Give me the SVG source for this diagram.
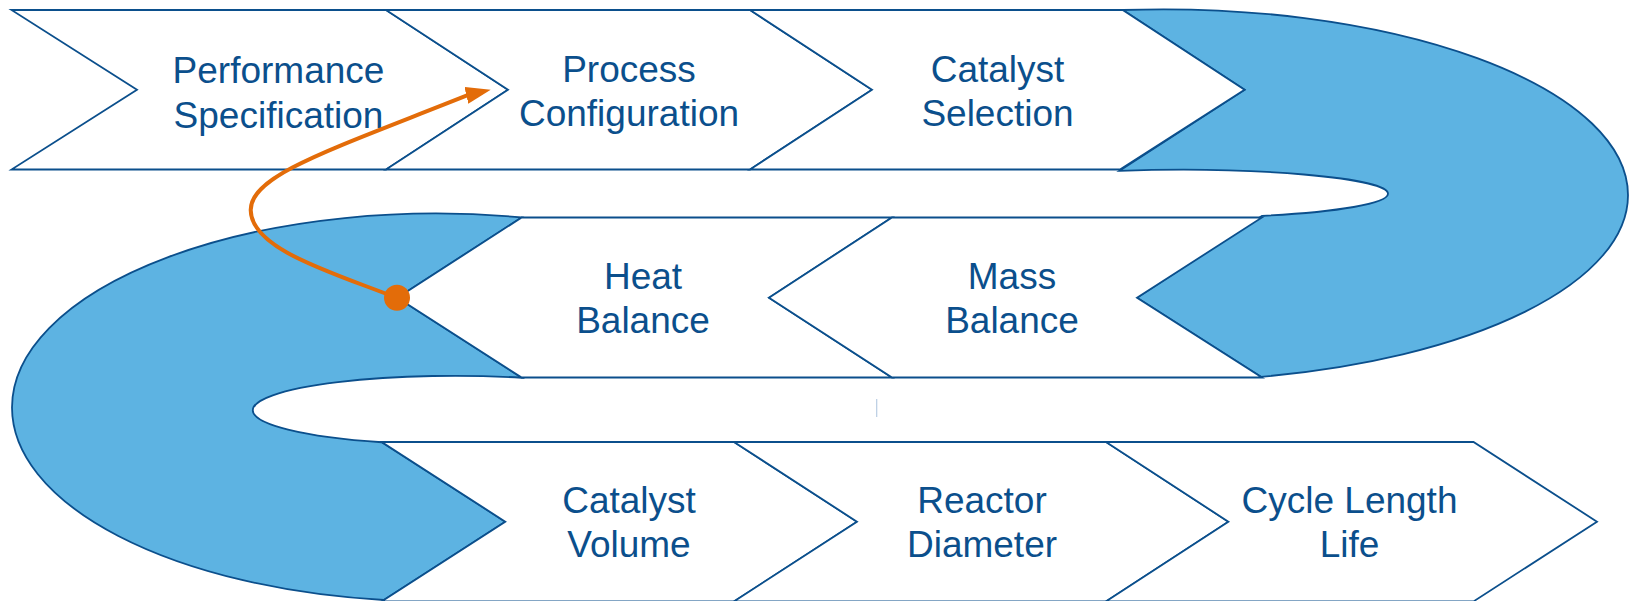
<svg xmlns="http://www.w3.org/2000/svg" width="1629" height="601" viewBox="0 0 1629 601">
<defs>
<style>
.chev{fill:#ffffff;stroke:#0B4F8C;stroke-width:1.8;stroke-linejoin:miter}
.band{fill:#5DB3E2;stroke:#0B4F8C;stroke-width:1.8;stroke-linejoin:miter}
.lbl{font-family:"Liberation Sans",Arial,sans-serif;font-size:37px;fill:#0B4F8C;text-anchor:middle}
.flow{fill:none;stroke:#E36C09;stroke-width:4;stroke-linecap:round}
</style>
<marker id="ah" markerUnits="userSpaceOnUse" markerWidth="27" markerHeight="18" refX="2" refY="8.5" orient="-13">
<path d="M0,0 L25,8.5 L0,17 Z" fill="#E36C09"/>
</marker>
</defs>
<rect width="1629" height="601" fill="#ffffff"/>
<g id="band-right">
<path class="band" d="M1122.7,10 A465,185.85 0 0 1 1628,195.15 A465,185.85 0 0 1 1261,376.8 L1137,297.7 L1262,215.86 A208,24 0 0 0 1388,193.8 A208,24 0 0 0 1119.5,170.84 L1244.6,89.7 Z"/>
</g>
<g id="band-left">
<path class="band" d="M521.7,217.5 L397.4,297.7 L521.7,377.73 A202.2,34.4 0 0 0 252.8,410.2 A202.2,34.4 0 0 0 381.7,442.26 L505.3,521.7 L383.9,600 A424,194 0 0 1 12,407.5 A424,194 0 0 1 521.7,217.5 Z"/>
</g>
<g id="performance-specification">
<polygon class="chev" points="11.5,10 386,10 508,89.7 386,169.5 11.5,169.5 137,89.7"/>
<text class="lbl" x="278.5" y="83.3">Performance<tspan x="278.5" dy="45">Specification</tspan></text>
</g>
<g id="process-configuration">
<polygon class="chev" points="386,10 750,10 872,89.7 750,169.5 386,169.5 508,89.7"/>
<text class="lbl" x="629" y="81.7">Process<tspan x="629" dy="44">Configuration</tspan></text>
</g>
<g id="catalyst-selection">
<polygon class="chev" points="750,10 1122.7,10 1244.6,89.7 1120,169.5 750,169.5 872,89.7"/>
<text class="lbl" x="997.5" y="81.7">Catalyst<tspan x="997.5" dy="44">Selection</tspan></text>
</g>
<g id="heat-balance">
<polygon class="chev" points="521.7,217.5 892,217.5 769,297.7 892,377.5 521.7,377.5 397.4,297.7"/>
<text class="lbl" x="643" y="289.3">Heat<tspan x="643" dy="44">Balance</tspan></text>
</g>
<g id="mass-balance">
<polygon class="chev" points="892,217.5 1262,217.5 1137,297.7 1262,377.5 892,377.5 769,297.7"/>
<text class="lbl" x="1012" y="289.3">Mass<tspan x="1012" dy="44">Balance</tspan></text>
</g>
<g id="catalyst-volume">
<polygon class="chev" points="381.7,442 734,442 857,521.7 734,601.4 381.7,601.4 505.3,521.7"/>
<text class="lbl" x="629" y="512.7">Catalyst<tspan x="629" dy="44">Volume</tspan></text>
</g>
<g id="reactor-diameter">
<polygon class="chev" points="734,442 1106,442 1228.4,521.7 1106,601.4 734,601.4 857,521.7"/>
<text class="lbl" x="982" y="512.7">Reactor<tspan x="982" dy="44">Diameter</tspan></text>
</g>
<g id="cycle-length-life">
<polygon class="chev" points="1106,442 1473.5,442 1597,521.7 1473.5,601.4 1106,601.4 1228.4,521.7"/>
<text class="lbl" x="1349.5" y="512.7">Cycle Length<tspan x="1349.5" dy="44">Life</tspan></text>
</g>
<line x1="876.7" y1="399" x2="876.7" y2="417" stroke="#B9CDE3" stroke-width="1.2"/>
<g id="connectors">
<path class="flow" d="M397,298 C337,274 250.7,250 250.7,210 C250.7,175 330,150 468.3,94.9" marker-end="url(#ah)"/>
<circle cx="397" cy="297.7" r="13" fill="#E36C09"/>
</g>
</svg>
